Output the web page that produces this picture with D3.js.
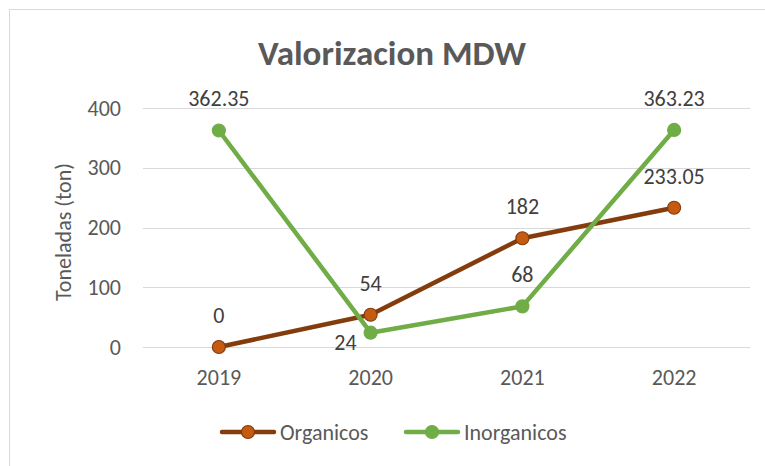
<!DOCTYPE html>
<meta charset="utf-8">
<script src="https://d3js.org/d3.v7.min.js"></script>
<style>
  body { margin: 0; background: #fff; }
  text { font-family: Calibri, Carlito, Lato, sans-serif; }
</style>
<div id="chart"></div>
<script>
// data
var years = ["2019", "2020", "2021", "2022"]
var organicos = [0, 54, 182, 233.05]
var inorganicos = [362.35, 24, 68, 363.23]
var yTicks = [0, 100, 200, 300, 400]

var width = 765, height = 466
var margin = {top: 108, right: 15, bottom: 119, left: 143}
var fs = "22px"

var svg = d3.select("#chart").append("svg")
    .attr("width", width)
    .attr("height", height)

// chart frame
svg.append("rect")
    .attr("x", 9.5).attr("y", 9.5)
    .attr("width", 800).attr("height", 500)
    .attr("fill", "none")
    .attr("stroke", "#d9d9d9")

var x = d3.scaleBand()
    .domain(years)
    .range([margin.left, width - margin.right])

var y = d3.scaleLinear()
    .domain([0, 400])
    .range([height - margin.bottom, margin.top])

// gridlines
svg.append("g")
    .selectAll("line")
    .data(yTicks)
    .enter().append("line")
    .attr("x1", margin.left).attr("x2", width - margin.right)
    .attr("y1", d => Math.round(y(d)) + 0.5).attr("y2", d => Math.round(y(d)) + 0.5)
    .attr("stroke", "#d9d9d9")
    .attr("stroke-width", 1)

// y axis labels
var yAxis = svg.append("g")
    .attr("transform", "translate(" + margin.left + ",0)")
    .call(d3.axisLeft(y).tickValues(yTicks).tickSize(0).tickPadding(22))
yAxis.select(".domain").remove()
yAxis.selectAll("text")
    .attr("fill", "#595959")
    .style("font-size", fs)
    .style("font-family", "Calibri, Carlito, Lato, sans-serif")

// x axis labels
var xAxis = svg.append("g")
    .attr("transform", "translate(0," + (height - margin.bottom) + ")")
    .call(d3.axisBottom(x).tickSize(0).tickPadding(22))
xAxis.select(".domain").remove()
xAxis.selectAll("text")
    .attr("fill", "#595959")
    .style("font-size", fs)
    .style("font-family", "Calibri, Carlito, Lato, sans-serif")

// axis title
svg.append("text")
    .attr("transform", "translate(71,232) rotate(-90)")
    .attr("text-anchor", "middle")
    .attr("fill", "#595959")
    .style("font-size", fs)
    .text("Toneladas (ton)")

// title
svg.append("text")
    .attr("x", 392).attr("y", 65)
    .attr("text-anchor", "middle")
    .attr("fill", "#595959")
    .style("font-size", "35px")
    .style("font-weight", "bold")
    .text("Valorizacion MDW")

var series = [
    {name: "Organicos", values: organicos, line: "#843c0c", fill: "#c55a11", stroke: "#843c0c"},
    {name: "Inorganicos", values: inorganicos, line: "#70ad47", fill: "#70ad47", stroke: "#70ad47"}
]

var line = d3.line()
    .x((d, i) => x(years[i]) + x.bandwidth() / 2)
    .y(d => y(d))

series.forEach(function(s) {
    svg.append("path")
        .datum(s.values)
        .attr("d", line)
        .attr("fill", "none")
        .attr("stroke", s.line)
        .attr("stroke-width", 4.5)
        .attr("stroke-linejoin", "round")
        .attr("stroke-linecap", "round")
})

series.forEach(function(s) {
    svg.append("g")
        .selectAll("circle")
        .data(s.values)
        .enter().append("circle")
        .attr("cx", (d, i) => x(years[i]) + x.bandwidth() / 2)
        .attr("cy", d => y(d))
        .attr("r", 6.5)
        .attr("fill", s.fill)
        .attr("stroke", s.stroke)
        .attr("stroke-width", 1.2)
})

// data labels: above the point, except 24 which sits to the left
svg.append("g")
    .selectAll("text")
    .data(organicos)
    .enter().append("text")
    .attr("x", (d, i) => x(years[i]) + x.bandwidth() / 2)
    .attr("y", d => y(d) - 24)
    .attr("text-anchor", "middle")
    .attr("fill", "#404040")
    .style("font-size", fs)
    .text(d => d)

svg.append("g")
    .selectAll("text")
    .data(inorganicos)
    .enter().append("text")
    .attr("x", (d, i) => x(years[i]) + x.bandwidth() / 2 + (i == 1 ? -14 : 0))
    .attr("y", (d, i) => y(d) + (i == 1 ? 17 : -24))
    .attr("text-anchor", (d, i) => i == 1 ? "end" : "middle")
    .attr("fill", "#404040")
    .style("font-size", fs)
    .text(d => d)

// legend
var legend = svg.append("g")
var lx = [220, 404]
series.forEach(function(s, i) {
    var g = legend.append("g").attr("transform", "translate(" + lx[i] + ",432)")
    g.append("line")
        .attr("x1", 2).attr("x2", 54)
        .attr("stroke", s.line)
        .attr("stroke-width", 4.5)
        .attr("stroke-linecap", "round")
    g.append("circle")
        .attr("cx", 28).attr("r", 6.5)
        .attr("fill", s.fill)
        .attr("stroke", s.stroke)
        .attr("stroke-width", 1.2)
    g.append("text")
        .attr("x", 60).attr("y", 8)
        .attr("fill", "#595959")
        .style("font-size", fs)
        .text(s.name)
})
</script>
